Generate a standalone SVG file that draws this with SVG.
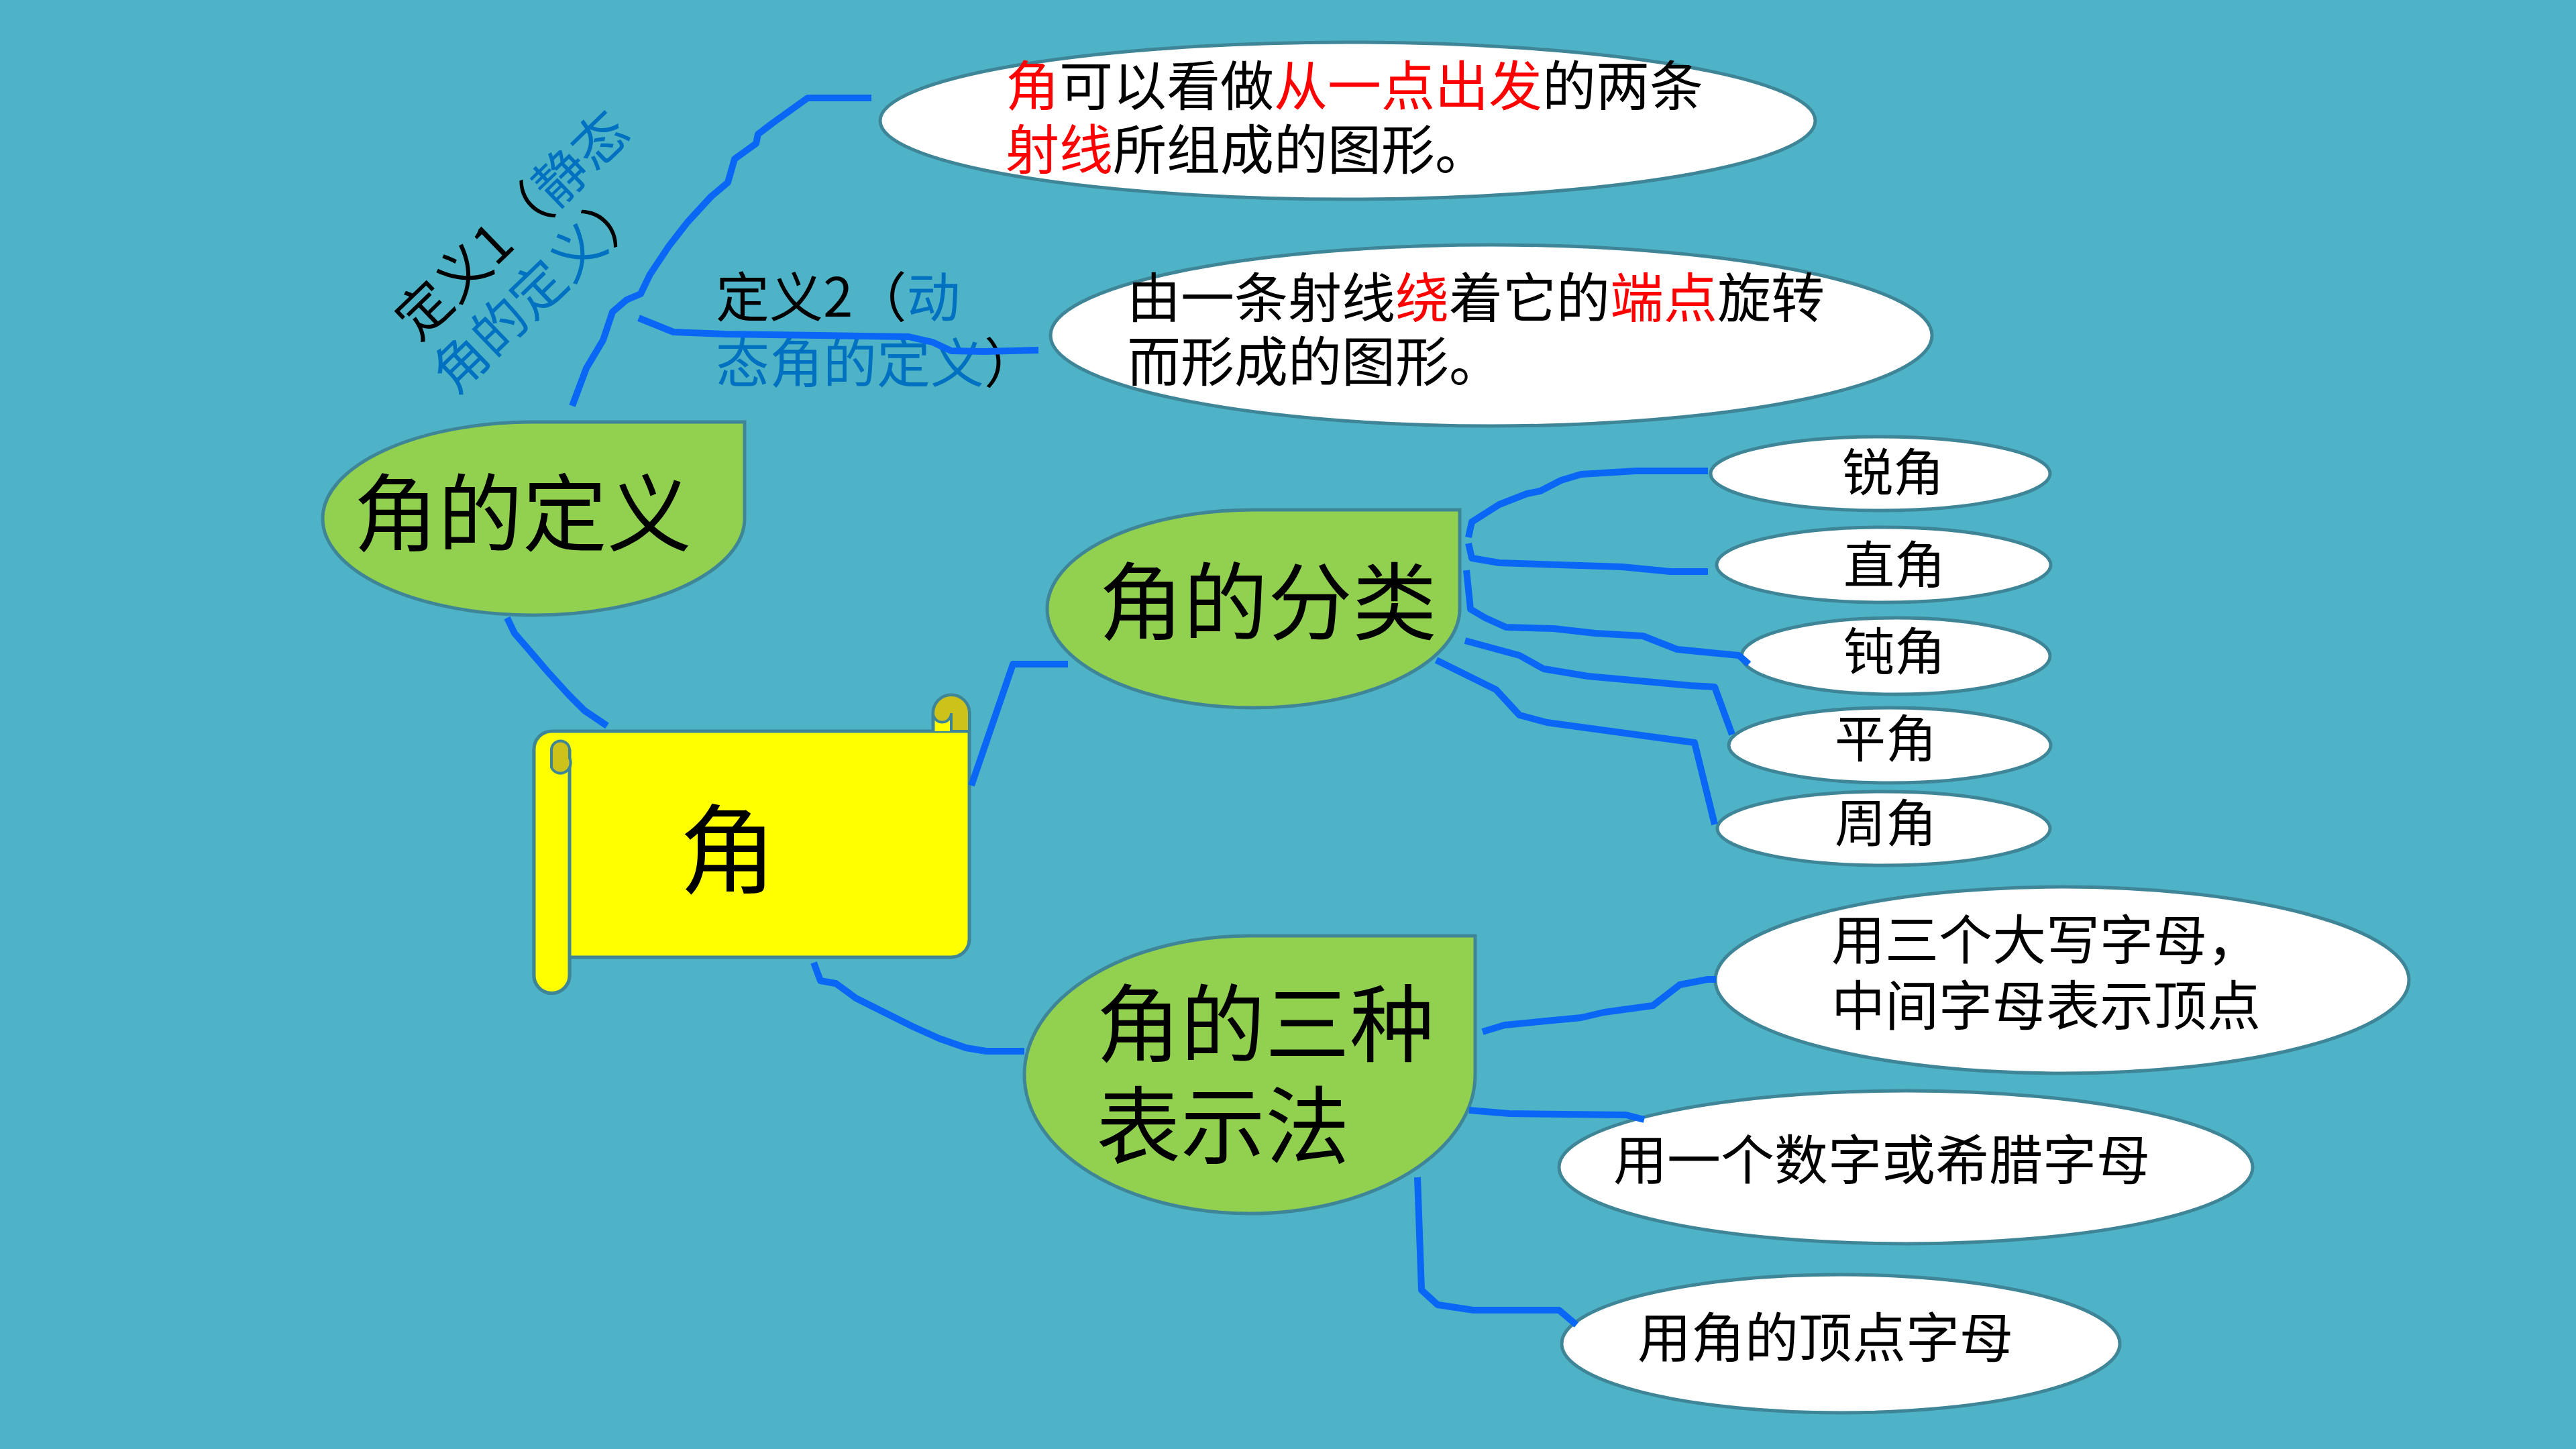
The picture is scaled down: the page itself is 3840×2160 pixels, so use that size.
<svg xmlns="http://www.w3.org/2000/svg" width="3840" height="2160" viewBox="0 0 3840 2160">
<style>
.bg{fill:#4FB3C8}
.oval{fill:#FFFFFF;stroke:#3E8597;stroke-width:5}
.leaf{fill:#92D050;stroke:#3E8597;stroke-width:5}
.scroll{fill:#FFFF00;stroke:#3E8597;stroke-width:5;stroke-linejoin:round}
.curl{fill:#CCC21A;stroke:#3E8597;stroke-width:4}
.t{font-family:"Noto Sans CJK SC","Noto Sans",sans-serif;fill:#000000}
.red{fill:#FF0000}
.blue{fill:#0070C0}
.conn path{fill:none;stroke:#0A66F5;stroke-width:10;stroke-linejoin:round;stroke-linecap:butt}
</style>
<rect class="bg" x="0" y="0" width="3840" height="2160"/>

<g id="label-def1">
<text class="t" font-size="80" transform="rotate(-44)" x="94" y="800">定义1（<tspan class="blue">静态</tspan></text>
<text class="t" font-size="80" transform="rotate(-44)" x="78" y="896"><tspan class="blue">角的定义</tspan>）</text>
</g>
<g id="label-def2">
<text class="t" font-size="80" x="1067" y="472">定义2（<tspan class="blue">动</tspan></text>
<text class="t" font-size="80" x="1067" y="570"><tspan class="blue">态角的定义</tspan>）</text>
</g>

<g id="node-center">
<path class="scroll" d="M822,1090 H1445 V1400 A27,27 0 0 1 1418,1427 H849 V1454 A26.5,26.5 0 0 1 796,1454 V1117 A26.5,27 0 0 1 822,1090 Z"/>
<path class="scroll" d="M796,1117 V1454 A26.5,26.5 0 0 0 849,1454 V1117"/>
<path class="curl" d="M822,1144 V1118 A13.5,13.5 0 0 1 849,1118 V1130 A13.5,14 0 0 1 822,1144 Z"/>
<path class="scroll" d="M1391,1090 V1063 A27,27 0 0 1 1445,1063 V1090"/>
<path class="curl" d="M1391,1063 A27,27 0 0 1 1445,1063 V1090 H1418 V1063 A13.5,13.5 0 0 1 1391,1063 Z"/>
<text class="t" font-size="145" x="1085" y="1321" text-anchor="middle">角</text>
</g>

<g id="node-def">
<path class="leaf" d="M481,773 A314.5,144 0 0 1 795.5,629 H1110 V773 A314.5,144 0 0 1 795.5,917 A314.5,144 0 0 1 481,773 Z"/>
<text class="t" font-size="126" x="779" y="812" text-anchor="middle">角的定义</text>
</g>
<g id="node-class">
<path class="leaf" d="M1561,907 A307.5,147.5 0 0 1 1868.5,760 H2176 V907 A307.5,147.5 0 0 1 1868.5,1055 A307.5,147.5 0 0 1 1561,907 Z"/>
<text class="t" font-size="126" x="1890" y="944" text-anchor="middle">角的分类</text>
</g>
<g id="node-rep">
<path class="leaf" d="M1527,1602 A336,207 0 0 1 1863,1395 H2199 V1602 A336,207 0 0 1 1863,1809 A336,207 0 0 1 1527,1602 Z"/>
<text class="t" font-size="126" x="1634" y="1573">角的三种</text>
<text class="t" font-size="126" x="1634" y="1725">表示法</text>
</g>

<g id="node-def1-text">
<ellipse class="oval" cx="2009" cy="180" rx="697" ry="117"/>
<text class="t" font-size="80" x="1499" y="157"><tspan class="red">角</tspan>可以看做<tspan class="red">从一点出发</tspan>的两条</text>
<text class="t" font-size="80" x="1499" y="252"><tspan class="red">射线</tspan>所组成的图形。</text>
</g>
<g id="node-def2-text">
<ellipse class="oval" cx="2223" cy="500" rx="657" ry="135"/>
<text class="t" font-size="80" x="1680" y="473">由一条射线<tspan class="red">绕</tspan>着它的<tspan class="red">端点</tspan>旋转</text>
<text class="t" font-size="80" x="1680" y="568">而形成的图形。</text>
</g>

<g id="node-acute">
<ellipse class="oval" cx="2803" cy="706" rx="253" ry="55"/>
<text class="t" font-size="76" x="2822" y="732" text-anchor="middle">锐角</text>
</g>
<g id="node-right">
<ellipse class="oval" cx="2808" cy="842" rx="249" ry="56"/>
<text class="t" font-size="76" x="2824" y="870" text-anchor="middle">直角</text>
</g>
<g id="node-obtuse">
<ellipse class="oval" cx="2826" cy="978" rx="230" ry="57"/>
<text class="t" font-size="76" x="2824" y="999" text-anchor="middle">钝角</text>
</g>
<g id="node-straight">
<ellipse class="oval" cx="2817" cy="1111" rx="240" ry="56"/>
<text class="t" font-size="76" x="2811" y="1129" text-anchor="middle">平角</text>
</g>
<g id="node-round">
<ellipse class="oval" cx="2808" cy="1235" rx="248" ry="55"/>
<text class="t" font-size="76" x="2811" y="1255" text-anchor="middle">周角</text>
</g>

<g id="node-rep1">
<ellipse class="oval" cx="3074" cy="1461" rx="517" ry="139"/>
<text class="t" font-size="80" x="2730" y="1430">用三个大写字母，</text>
<text class="t" font-size="80" x="2730" y="1528">中间字母表示顶点</text>
</g>
<g id="node-rep2">
<ellipse class="oval" cx="2841" cy="1740" rx="517" ry="114"/>
<text class="t" font-size="80" x="2405" y="1758">用一个数字或希腊字母</text>
</g>
<g id="node-rep3">
<ellipse class="oval" cx="2744" cy="2003" rx="416" ry="103"/>
<text class="t" font-size="80" x="2441" y="2023">用角的顶点字母</text>
</g>

<g id="connectors" class="conn">
<path d="M853,605 L874,549 L899,507 L913,465 L934,447 L955,438 L969,409 L997,367 L1025,331 L1060,293 L1085,272 L1095,237 L1127,214 L1130,200 L1151,184 L1204,146 L1299,146"/>
<path d="M952,474 L1004,495 L1081,498 L1355,502 L1390,510 L1418,523 L1467,524 L1548,522"/>
<path d="M756,921 L767,944 L787,967 L817,1002 L848,1036 L871,1059 L905,1082"/>
<path d="M1448,1171 L1510,990 L1592,990"/>
<path d="M1213,1435 L1223,1462 L1246,1466 L1276,1488 L1320,1510 L1360,1530 L1400,1548 L1440,1562 L1470,1567 L1527,1567"/>
<path d="M2189,801 L2194,778 L2235,752 L2276,736 L2296,732 L2327,716 L2357,707 L2439,702 L2546,702"/>
<path d="M2189,810 L2194,832 L2235,839 L2418,845 L2490,852 L2546,852"/>
<path d="M2186,850 L2192,908 L2214,921 L2245,935 L2316,937 L2378,944 L2449,948 L2500,968 L2592,977 L2607,990"/>
<path d="M2184,955 L2265,977 L2301,997 L2367,1008 L2520,1022 L2556,1024 L2582,1095"/>
<path d="M2141,984 L2230,1028 L2265,1066 L2306,1077 L2526,1107 L2556,1229"/>
<path d="M2210,1538 L2243,1528 L2357,1517 L2391,1509 L2464,1499 L2504,1468 L2545,1460 L2558,1460"/>
<path d="M2190,1655 L2250,1660 L2424,1662 L2451,1669"/>
<path d="M2113,1755 L2119,1923 L2143,1945 L2196,1953 L2324,1953 L2350,1975"/>
</g>
</svg>
